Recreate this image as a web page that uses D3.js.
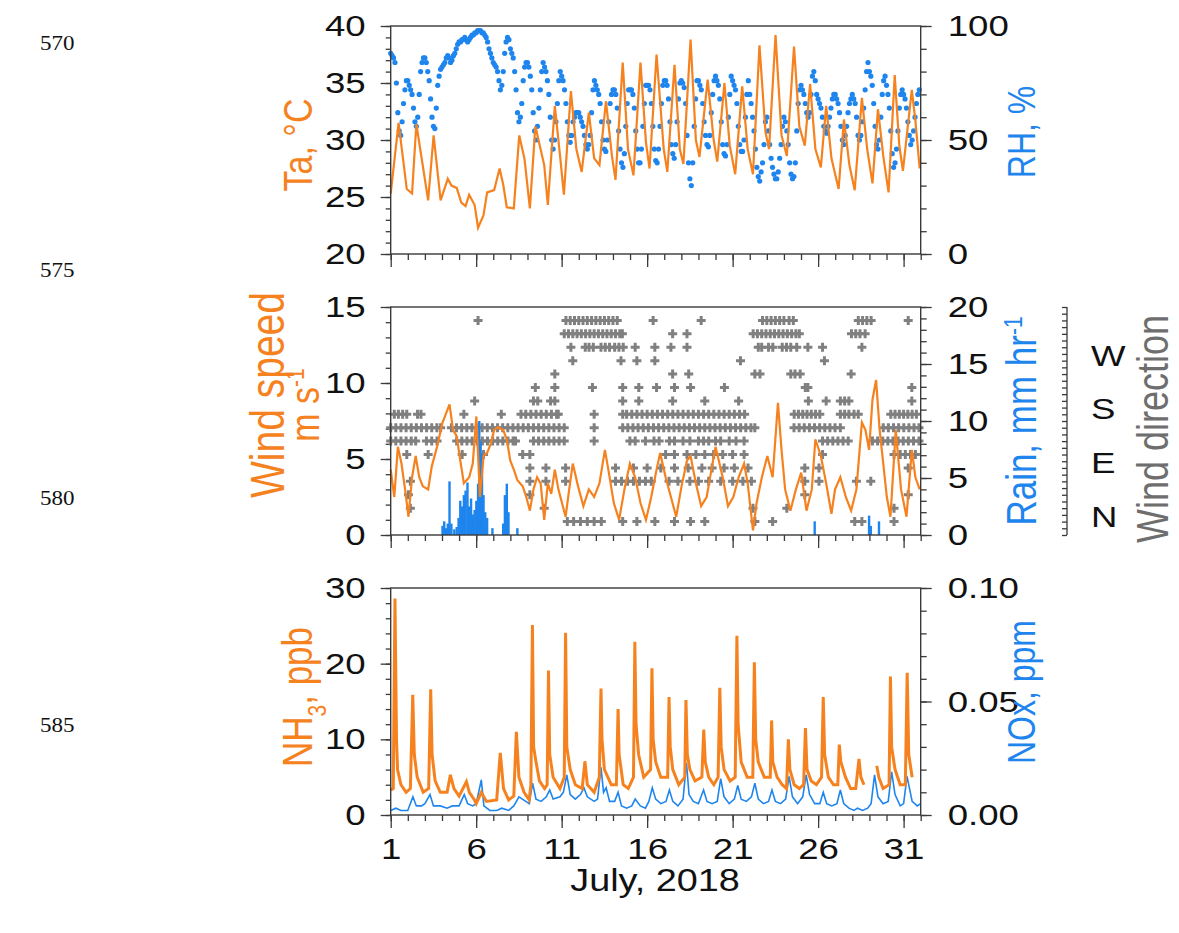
<!DOCTYPE html>
<html>
<head>
<meta charset="utf-8">
<script src="https://cdn.jsdelivr.net/npm/d3@7"></script>
<style>
  body { margin: 0; background: #fff; }
  svg { display: block; }
  text { font-family: "Liberation Sans", Arial, sans-serif; }
</style>
</head>
<body>
<svg id="chart" width="1179" height="933"></svg>
<script>
// ---------- data: July 2018 (day of month, fractional) ----------
const dayTicks = [1, 6, 11, 16, 21, 26, 31];

// Air temperature, °C
const temperature = [
  [1.00,25.3],[1.46,31.5],[1.94,25.7],[2.25,25.3],[2.50,31.4],[3.19,24.7],[3.51,30.4],[3.92,24.7],
  [4.34,26.6],[4.55,26.0],[4.86,25.8],[5.13,24.5],[5.38,24.2],[5.59,25.2],[5.91,24.3],[6.11,22.3],
  [6.43,23.4],[6.64,25.4],[7.05,25.6],[7.37,27.5],[7.58,26.1],[7.79,24.1],[8.20,24.0],[8.52,30.4],
  [8.83,28.3],[9.14,24.0],[9.46,31.2],[9.98,27.8],[10.19,24.3],[10.60,33.0],[10.92,28.4],[11.13,25.2],
  [11.54,34.3],[11.86,29.2],[12.17,27.2],[12.59,32.4],[12.90,28.4],[13.21,27.8],[13.59,33.4],[13.94,28.6],
  [14.15,26.5],[14.57,36.8],[14.88,29.2],[15.20,26.9],[15.61,36.8],[15.93,29.8],[16.14,27.5],[16.55,37.5],
  [16.97,29.2],[17.18,27.2],[17.60,36.6],[17.91,29.2],[18.12,27.9],[18.54,38.8],[18.85,30.0],[19.06,28.5],
  [19.54,35.3],[19.89,30.0],[20.10,28.1],[20.52,35.0],[20.83,29.5],[21.15,27.0],[21.56,34.7],[21.88,29.2],
  [22.19,27.0],[22.57,38.3],[22.92,30.7],[23.13,29.2],[23.51,39.2],[23.86,30.4],[24.17,28.6],[24.59,38.2],
  [24.90,31.2],[25.22,29.5],[25.53,34.9],[25.84,29.2],[26.16,27.6],[26.47,33.0],[26.78,28.4],[27.20,25.7],
  [27.51,31.8],[27.83,27.8],[28.14,25.6],[28.56,33.7],[28.87,29.2],[29.18,26.2],[29.50,32.7],[29.81,28.6],
  [30.12,25.4],[30.48,35.7],[30.75,29.5],[30.96,27.3],[31.48,34.4],[31.69,31.7],[31.94,27.5]
];

// Relative humidity, %, two-hourly from 1 July 00:00 (one row per day)
const humidityStart = 1;
const humidityStep = 1 / 12;
const humidity = [
  88,87,86,84,75,62,54,52,58,66,72,76,
  76,74,72,70,64,58,56,60,70,80,84,86,
  86,84,80,76,68,60,56,55,64,74,78,81,
  82,83,84,86,87,86,84,85,87,88,90,92,
  93,93,94,94,95,94,93,94,95,96,96,97,
  97,98,98,98,97,97,96,95,93,90,88,86,
  84,83,82,80,76,72,74,80,88,93,95,94,
  90,88,86,80,72,62,58,60,66,76,82,84,
  84,82,78,72,62,54,50,56,64,72,80,84,
  82,80,76,70,60,50,46,50,58,66,76,80,
  78,76,72,66,58,52,49,52,58,60,62,62,
  62,60,58,56,52,48,46,48,52,62,72,76,
  74,72,70,66,58,50,46,45,50,58,66,70,
  72,72,70,64,54,46,40,38,44,56,66,72,
  72,72,70,64,54,46,40,40,46,56,66,74,
  74,74,72,66,56,46,41,40,46,56,66,74,
  76,76,74,68,58,48,44,42,48,58,68,75,
  76,75,73,66,52,40,33,30,40,56,68,76,
  76,74,72,66,58,52,48,47,52,62,70,76,
  78,76,74,68,58,48,44,43,48,60,70,78,
  76,74,72,66,56,48,45,45,50,60,70,76,
  70,66,60,54,46,38,34,32,36,40,48,58,
  60,54,48,42,38,35,33,33,36,42,48,56,
  60,58,54,48,40,35,33,34,40,54,66,72,
  74,72,70,66,62,60,62,70,78,80,76,70,
  68,66,64,60,56,54,53,56,60,64,68,70,
  70,68,66,62,56,50,48,52,56,62,66,68,
  70,68,66,60,52,50,52,58,64,72,80,84,
  80,78,74,66,56,48,46,50,60,70,76,78,
  74,70,64,54,44,38,40,46,54,64,70,72,
  70,68,64,58,52,48,50,54,60,66,70,72
];

// Wind speed, m/s
const windSpeed = [
  [1.00,4.3],[1.21,2.5],[1.42,5.8],[1.63,4.7],[1.84,3.0],[2.04,1.2],[2.25,3.8],[2.46,5.2],[2.67,3.8],[2.88,3.2],
  [3.19,3.0],[3.40,4.5],[3.71,5.8],[4.03,7.4],[4.24,8.0],[4.44,8.6],[4.65,6.9],[4.86,6.5],[5.07,4.9],[5.28,3.4],
  [5.59,3.8],[5.80,4.7],[6.01,7.8],[6.22,2.5],[6.43,5.2],[6.64,5.4],[6.85,6.0],[7.05,6.9],[7.26,7.1],[7.58,6.9],
  [7.79,6.3],[7.99,4.9],[8.20,4.3],[8.41,3.6],[8.72,3.2],[8.93,2.5],[9.14,1.6],[9.35,3.0],[9.56,3.8],[9.77,3.4],
  [9.98,1.0],[10.19,3.4],[10.39,2.7],[10.60,4.3],[10.81,3.0],[11.02,2.1],[11.23,1.2],[11.44,3.0],[11.65,4.7],[11.96,3.2],
  [12.27,1.9],[12.59,3.0],[12.90,2.5],[13.21,3.4],[13.53,5.6],[13.73,4.3],[14.05,2.1],[14.36,1.0],[14.67,3.0],[14.99,4.7],
  [15.30,3.8],[15.61,2.1],[15.93,1.0],[16.24,2.5],[16.55,4.3],[16.76,5.4],[17.08,3.8],[17.39,2.5],[17.70,1.2],[18.01,3.2],
  [18.33,4.9],[18.54,5.2],[18.85,3.4],[19.16,1.9],[19.48,2.5],[19.79,4.5],[20.00,5.8],[20.42,3.8],[20.73,1.9],[21.04,2.5],
  [21.35,3.8],[21.67,4.7],[21.88,3.4],[22.19,0.3],[22.40,2.1],[22.71,3.8],[23.03,5.2],[23.34,3.8],[23.65,8.7],[23.86,5.6],
  [24.07,3.0],[24.38,1.6],[24.70,3.0],[25.01,4.1],[25.32,1.6],[25.63,3.0],[25.84,6.3],[26.16,5.2],[26.47,3.4],[26.78,1.4],
  [26.99,3.0],[27.30,3.8],[27.62,2.5],[27.93,1.6],[28.24,3.0],[28.56,7.4],[28.77,6.9],[28.98,5.6],[29.18,8.9],[29.39,10.2],
  [29.60,6.9],[29.81,4.7],[30.02,2.5],[30.23,1.2],[30.54,6.9],[30.85,3.0],[31.17,1.2],[31.48,5.6],[31.69,3.8],[31.94,3.0]
];

// Hourly rainfall, mm/hr
const rainfall = [
  [4.03,0.8],[4.13,1.2],[4.24,0.6],[4.34,1.0],[4.44,4.7],[4.55,1.0],[4.72,0.5],[4.86,0.7],[4.97,1.5],[5.07,3.0],
  [5.18,2.5],[5.28,3.5],[5.38,3.9],[5.49,4.6],[5.59,2.5],[5.70,3.2],[5.80,1.8],[5.91,2.2],[6.01,3.0],[6.11,4.5],
  [6.18,10.0],[6.26,8.2],[6.34,7.0],[6.43,3.5],[6.53,2.0],[6.64,1.5],[6.95,0.6],[7.58,1.0],[7.68,3.5],[7.79,4.5],
  [7.89,2.0],[8.41,0.6],[25.80,1.2],[28.98,1.7],[29.08,0.8],[29.56,1.2]
];

// Wind direction sectors (16-point compass), with the days each sector was observed
const windSectors = ["N","NNE","NE","ENE","E","ESE","SE","SSE","S","SSW","SW","WSW","W","WNW","NW","NNW"];
const windDirDays = [
  /* N   */ [11.33,11.7,12.1,12.5,12.9,13.32,14.57,15.4,16.45,17.6,18.54,19.37,22.3,23.34,28.14,28.56,30.44],
  /* NNE */ [2.15,9.98,22.19,24.17,30.44],
  /* NE  */ [2.04,9.14,25.22,31.27],
  /* ENE */ [2.15,9.14,10.08,11.23,14.15,14.5,14.85,15.2,15.55,15.9,16.24,17.28,17.8,18.5,19.0,19.6,20.3,21.0,21.6,22.1,25.22,26.05,28.24,29.08],
  /* E   */ [9.14,10.08,11.23,14.15,15.2,16.0,16.8,17.6,18.4,19.2,19.8,20.5,21.1,21.9,25.22,26.05,31.27],
  /* ESE */ [1.94,3.19,5.18,6.43,8.72,9.14,17.08,17.6,18.33,18.85,19.37,19.89,20.42,21.0,21.67,26.26,30.44,30.8,31.1,31.4,31.69],
  /* SE  */ [1.0,1.3,1.6,1.9,2.2,2.46,3.09,3.4,3.71,4.86,5.16,5.46,5.76,6.06,6.36,6.66,6.96,7.26,7.56,7.86,8.16,8.3,
             9.35,9.65,9.95,10.25,10.55,10.85,11.15,12.9,14.99,15.3,15.9,16.4,16.7,17.3,17.6,18.1,18.5,19.0,19.3,19.6,
             20.0,20.3,20.8,21.2,21.67,26.26,26.56,26.86,27.16,27.46,27.76,29.18,29.48,29.78,30.08,30.38,30.68,30.98,31.28,31.58,31.9],
  /* SSE */ [1.0,1.3,1.6,1.9,2.2,2.5,2.8,3.1,3.4,3.7,3.92,4.55,4.85,5.15,5.45,5.75,6.05,6.35,6.65,6.95,7.25,7.55,7.85,
             8.15,8.45,8.75,9.05,9.35,9.65,9.95,10.25,10.55,10.85,11.15,12.9,14.57,14.87,15.17,15.47,15.77,16.07,16.37,
             16.67,16.97,17.27,17.57,17.87,18.17,18.47,18.77,19.07,19.37,19.67,19.97,20.27,20.57,20.87,21.17,21.47,21.77,
             22.07,22.3,24.59,24.89,25.19,25.49,25.79,26.09,26.39,26.69,26.99,27.3,29.81,30.11,30.41,30.71,31.01,31.31,31.61,31.9],
  /* S   */ [1.21,1.45,1.7,1.94,2.57,2.77,5.28,7.47,8.62,8.9,9.2,9.5,9.8,10.1,10.4,10.7,10.8,12.9,14.57,14.8,15.1,15.4,
             15.7,16.0,16.3,16.6,16.9,17.2,17.5,17.8,18.1,18.4,18.7,19.0,19.3,19.6,19.9,20.2,20.5,20.8,21.1,21.4,21.7,
             24.6,24.85,25.1,25.35,25.6,25.85,26.1,27.3,27.55,27.8,28.1,28.35,30.25,30.5,30.75,31.0,31.25,31.5,31.75],
  /* SSW */ [5.91,9.35,9.6,10.35,10.6,14.57,15.51,17.49,19.37,21.35,25.43,26.47,27.3,27.55,27.8,31.48],
  /* SW  */ [9.46,10.6,12.8,14.57,15.51,16.55,17.6,18.54,20.52,25.25,25.4,31.48],
  /* WSW */ [10.6,17.49,18.43,22.3,22.6,24.4,24.65,24.95,27.93],
  /* W   */ [11.65,14.47,15.4,16.45,21.46,26.37],
  /* WNW */ [11.54,12.38,12.6,12.85,13.3,13.55,13.8,14.1,14.35,14.6,15.3,16.45,17.39,18.33,22.5,22.7,23.1,23.35,23.9,
             24.15,24.4,24.75,25.4,26.26,28.56],
  /* NW  */ [11.15,11.4,11.65,11.9,12.15,12.4,12.65,12.9,13.15,13.4,13.65,13.9,14.15,14.4,14.55,17.49,18.33,22.2,22.45,
             22.7,22.95,23.2,23.45,23.7,23.95,24.2,24.45,24.7,24.9,27.95,28.2,28.45,28.75],
  /* NNW */ [6.11,11.25,11.5,11.75,12.0,12.25,12.5,12.75,13.0,13.25,13.5,13.75,14.0,14.25,16.35,19.16,22.75,23.0,23.25,
             23.5,23.75,24.0,24.3,24.55,28.35,28.6,28.85,29.1,31.27]
];

// Ammonia, ppb (null marks missing data)
const ammonia = [
  [1.00,3.3],[1.15,3.5],[1.25,28.6],[1.30,18.0],[1.34,10.0],[1.40,6.0],[1.60,4.0],[1.90,3.0],[2.15,3.5],[2.29,15.9],
  [2.38,8.0],[2.55,5.0],[2.90,3.0],[3.22,3.5],[3.34,16.6],[3.42,8.0],[3.60,4.5],[3.90,3.0],[4.30,3.0],[4.49,5.3],
  [4.70,3.5],[5.00,2.5],[5.43,4.4],[5.60,3.0],[5.90,2.0],[6.00,1.5],[6.30,3.0],[6.60,1.8],[7.20,2.0],[7.41,8.2],
  [7.60,3.5],[7.90,2.0],[8.20,2.5],[8.35,11.0],[8.50,5.0],[8.80,3.0],[9.10,2.0],[9.20,4.0],[9.29,25.1],[9.36,9.0],
  [9.50,7.0],[9.70,4.5],[10.00,3.5],[10.15,4.0],[10.23,19.1],[10.30,8.0],[10.50,5.0],[10.90,3.5],[11.15,5.0],[11.23,24.1],
  [11.30,9.0],[11.50,6.0],[11.80,4.0],[12.20,3.5],[12.36,7.1],[12.50,4.0],[12.90,3.0],[13.20,5.0],[13.30,16.7],[13.36,10.0],
  [13.50,6.0],[13.90,4.0],[14.20,4.0],[14.30,14.0],[14.36,8.0],[14.60,4.0],[14.90,3.5],[15.20,5.0],[15.28,22.9],[15.35,12.0],
  [15.50,8.0],[15.80,5.0],[16.20,6.0],[16.28,19.4],[16.35,10.0],[16.50,7.0],[16.80,5.0],[17.20,5.0],[17.28,15.6],[17.35,9.0],
  [17.50,6.0],[17.85,4.0],[18.20,5.0],[18.27,15.2],[18.35,8.0],[18.50,6.0],[18.80,4.5],[19.20,5.0],[19.31,11.3],[19.40,7.0],
  [19.60,5.0],[19.90,4.0],[20.15,5.0],[20.25,16.8],[20.33,9.0],[20.50,6.0],[20.85,4.5],[21.15,5.0],[21.25,23.7],[21.32,12.0],
  [21.50,7.0],[21.85,5.0],[22.18,5.0],[22.27,20.2],[22.35,10.0],[22.50,7.0],[22.85,5.0],[23.20,5.0],[23.28,12.5],[23.35,7.0],
  [23.60,5.0],[23.90,4.0],[24.15,3.5],[24.26,10.0],[24.35,6.0],[24.60,4.0],[24.90,3.5],[25.15,4.0],[25.26,11.5],[25.35,6.0],
  [25.60,4.5],[25.90,4.0],[26.20,5.0],[26.30,15.6],[26.38,8.0],[26.60,5.0],[26.90,4.0],[27.15,4.0],[27.24,9.3],[27.33,7.0],
  [27.60,5.0],[27.90,3.5],[28.20,3.5],[28.39,7.4],[28.50,5.0],[28.68,4.0],[28.70,null],[29.43,null],[29.43,6.5],[29.55,5.0],
  [29.80,3.5],[30.15,4.0],[30.23,18.3],[30.30,9.0],[30.50,6.0],[30.80,4.0],[31.10,4.0],[31.21,18.8],[31.30,8.0],[31.50,5.0]
];

// Nitrogen oxides, ppm
const nitrogenOxides = [
  [1.0,0.002],[1.3,0.003],[1.6,0.002],[2.0,0.002],[2.3,0.008],[2.5,0.004],[2.8,0.004],[3.0,0.005],[3.3,0.009],[3.5,0.004],
  [3.9,0.004],[4.3,0.003],[4.6,0.004],[5.0,0.004],[5.3,0.009],[5.5,0.005],[5.8,0.004],[6.0,0.005],[6.3,0.0155],[6.45,0.004],
  [6.8,0.002],[7.2,0.002],[7.5,0.003],[7.9,0.002],[8.2,0.004],[8.5,0.008],[8.9,0.006],[9.1,0.005],[9.3,0.014],[9.5,0.007],
  [9.8,0.006],[10.1,0.008],[10.3,0.011],[10.5,0.007],[10.9,0.008],[11.1,0.010],[11.3,0.0177],[11.5,0.009],[11.8,0.007],[12.1,0.009],
  [12.3,0.012],[12.5,0.008],[12.9,0.006],[13.1,0.007],[13.3,0.021],[13.45,0.010],[13.6,0.012],[13.8,0.006],[14.1,0.006],[14.3,0.010],
  [14.5,0.004],[14.8,0.003],[15.1,0.004],[15.3,0.007],[15.6,0.004],[15.9,0.003],[16.1,0.006],[16.3,0.012],[16.5,0.007],[16.8,0.005],
  [17.1,0.006],[17.3,0.011],[17.5,0.006],[17.8,0.004],[18.1,0.007],[18.3,0.023],[18.45,0.009],[18.7,0.006],[19.0,0.005],[19.3,0.011],
  [19.5,0.006],[19.8,0.005],[20.1,0.006],[20.3,0.016],[20.5,0.008],[20.8,0.005],[21.1,0.007],[21.3,0.013],[21.5,0.007],[21.8,0.006],
  [22.1,0.008],[22.3,0.014],[22.5,0.007],[22.8,0.005],[23.1,0.006],[23.3,0.011],[23.5,0.006],[23.8,0.005],[24.1,0.007],[24.3,0.017],
  [24.5,0.008],[24.8,0.005],[25.1,0.008],[25.3,0.0177],[25.5,0.009],[25.8,0.005],[26.1,0.005],[26.3,0.010],[26.5,0.005],[26.8,0.004],
  [27.1,0.005],[27.3,0.011],[27.5,0.005],[27.8,0.003],[28.1,0.002],[28.3,0.003],[28.6,0.002],[28.9,0.003],[29.1,0.005],[29.3,0.0177],
  [29.5,0.008],[29.8,0.005],[30.1,0.006],[30.3,0.019],[30.5,0.009],[30.8,0.004],[31.0,0.005],[31.2,0.017],[31.5,0.006],[31.8,0.004],[32.0,0.005]
];

// ---------- layout & style ----------
const ORANGE = "#F5821F", BLUE = "#1E85EE", GREY = "#808080", AXIS = "#3a3a3a";
const TEXT_STRETCH = 1.22;
const FS_TICK = 30;

const svg = d3.select("#chart");
const left = 390.7, right = 920.7;
const panels = { top: [26, 254], mid: [307, 535], bot: [588, 815] };

const x = d3.scaleLinear().domain([1, 32]).range([left, right]);
const yTa = d3.scaleLinear().domain([20, 40]).range(panels.top.slice().reverse());
const yRH = d3.scaleLinear().domain([0, 100]).range(panels.top.slice().reverse());
const yWS = d3.scaleLinear().domain([0, 15]).range(panels.mid.slice().reverse());
const yRain = d3.scaleLinear().domain([0, 20]).range(panels.mid.slice().reverse());
const ySector = d3.scaleLinear().domain([-1, 16]).range(panels.mid.slice().reverse());
const yNH3 = d3.scaleLinear().domain([0, 30]).range(panels.bot.slice().reverse());
const yNOx = d3.scaleLinear().domain([0, 0.1]).range(panels.bot.slice().reverse());

function stretchText(sel) {
  sel.each(function () {
    const t = d3.select(this);
    const tx = +t.attr("x") || 0, ty = +t.attr("y") || 0;
    t.attr("x", 0).attr("y", 0)
     .attr("transform", `translate(${tx},${ty}) scale(${TEXT_STRETCH},1)`);
  });
}

function styleAxis(g) {
  g.select(".domain").remove();
  g.selectAll(".tick line").attr("stroke", AXIS).attr("stroke-width", 1.3);
  g.selectAll(".tick text").attr("fill", "#111").style("font-size", FS_TICK + "px")
   .style("font-family", '"Liberation Sans", Arial, sans-serif');
  stretchText(g.selectAll(".tick text"));
}

function addAxis(axis, tx, ty) {
  const g = svg.append("g").attr("transform", `translate(${tx},${ty})`).call(axis);
  styleAxis(g);
  return g;
}

function frame(p) {
  svg.append("rect").attr("x", left).attr("y", p[0]).attr("width", right - left)
    .attr("height", p[1] - p[0]).attr("fill", "none").attr("stroke", AXIS).attr("stroke-width", 1.4);
}

function titleText(cx, cy, color, size) {
  return svg.append("text")
    .attr("transform", `translate(${cx},${cy}) scale(${TEXT_STRETCH},1) rotate(-90)`)
    .attr("text-anchor", "middle").attr("dy", "0.35em")
    .attr("fill", color).style("font-size", size + "px");
}

// ---------- frames and axes ----------
const minorDays = d3.range(1, 33);
[panels.top, panels.mid, panels.bot].forEach((p, i) => {
  addAxis(d3.axisBottom(x).tickValues(minorDays).tickSize(6).tickFormat(""), 0, p[1]);
  const major = d3.axisBottom(x).tickValues(dayTicks).tickSize(13).tickPadding(10);
  if (i < 2) major.tickFormat("");
  addAxis(major, 0, p[1]);
});

// top panel: temperature (left), RH (right)
addAxis(d3.axisLeft(yTa).tickValues(d3.range(20, 41)).tickSize(5).tickFormat(""), left, 0);
addAxis(d3.axisLeft(yTa).tickValues([20, 25, 30, 35, 40]).tickSize(10).tickPadding(15), left, 0);
addAxis(d3.axisRight(yRH).tickValues(d3.range(0, 101, 10)).tickSize(6).tickFormat(""), right, 0);
addAxis(d3.axisRight(yRH).tickValues([0, 50, 100]).tickSize(11).tickPadding(16), right, 0);

// middle panel: wind speed (left), rain (right), wind direction (outer right)
addAxis(d3.axisLeft(yWS).tickValues(d3.range(0, 16)).tickSize(5).tickFormat(""), left, 0);
addAxis(d3.axisLeft(yWS).tickValues([0, 5, 10, 15]).tickSize(10).tickPadding(15), left, 0);
addAxis(d3.axisRight(yRain).tickValues(d3.range(0, 21)).tickSize(6).tickFormat(""), right, 0);
addAxis(d3.axisRight(yRain).tickValues([0, 5, 10, 15, 20]).tickSize(11).tickPadding(16), right, 0);

const wdX = 1067;
svg.append("line").attr("x1", wdX).attr("x2", wdX).attr("y1", panels.mid[0]).attr("y2", panels.mid[1])
  .attr("stroke", AXIS).attr("stroke-width", 1.3);
addAxis(d3.axisLeft(ySector).tickValues(d3.range(-1, 16.5, 0.5)).tickSize(5).tickFormat(""), wdX, 0);
addAxis(d3.axisRight(ySector).tickValues([0, 4, 8, 12]).tickSize(0).tickPadding(24)
  .tickFormat(d => windSectors[d]), wdX, -5);

// bottom panel: NH3 (left), NOx (right)
addAxis(d3.axisLeft(yNH3).tickValues(d3.range(0, 31, 2)).tickSize(5).tickFormat(""), left, 0);
addAxis(d3.axisLeft(yNH3).tickValues([0, 10, 20, 30]).tickSize(10).tickPadding(15), left, 0);
addAxis(d3.axisRight(yNOx).tickValues(d3.range(0, 0.1001, 0.01)).tickSize(6).tickFormat(""), right, 0);
addAxis(d3.axisRight(yNOx).tickValues([0, 0.05, 0.1]).tickSize(11).tickPadding(16).tickFormat(d3.format(".2f")), right, 0);

// ---------- marks ----------
// RH dots
svg.append("g").selectAll("circle").data(humidity).join("circle")
  .attr("cx", (d, i) => x(humidityStart + i * humidityStep))
  .attr("cy", d => yRH(d)).attr("r", 2.6).attr("fill", BLUE);

// temperature line
svg.append("path").datum(temperature)
  .attr("d", d3.line().x(d => x(d[0])).y(d => yTa(d[1])))
  .attr("fill", "none").attr("stroke", ORANGE).attr("stroke-width", 2.2);

// wind direction crosses
const crossPath = d3.symbol(d3.symbolCross, 45)();
const wdPoints = windDirDays.flatMap((list, s) => list.map(day => [day, s]));
svg.append("g").selectAll("path").data(wdPoints).join("path")
  .attr("d", crossPath)
  .attr("transform", d => `translate(${x(d[0])},${ySector(d[1])})`)
  .attr("fill", GREY);

// rain bars
svg.append("g").selectAll("rect").data(rainfall).join("rect")
  .attr("x", d => x(d[0]) - 1.2).attr("width", 2.4)
  .attr("y", d => yRain(d[1])).attr("height", d => yRain(0) - yRain(d[1]))
  .attr("fill", BLUE);

// wind speed line
svg.append("path").datum(windSpeed)
  .attr("d", d3.line().x(d => x(d[0])).y(d => yWS(d[1])))
  .attr("fill", "none").attr("stroke", ORANGE).attr("stroke-width", 2.2);

// NOx line
svg.append("path").datum(nitrogenOxides)
  .attr("d", d3.line().x(d => x(d[0])).y(d => yNOx(d[1])))
  .attr("fill", "none").attr("stroke", BLUE).attr("stroke-width", 1.6);

// NH3 line
svg.append("path").datum(ammonia)
  .attr("d", d3.line().defined(d => d[1] !== null).x(d => x(d[0])).y(d => yNH3(d[1])))
  .attr("fill", "none").attr("stroke", ORANGE).attr("stroke-width", 3);

// frames on top
[panels.top, panels.mid, panels.bot].forEach(frame);

// ---------- titles ----------
titleText(297, 145, ORANGE, 34).text("Ta, °C");
titleText(1021, 132, BLUE, 32).text("RH, %");

titleText(267, 395, ORANGE, 39).text("Wind speed");
const ms = titleText(304, 405, ORANGE, 34);
ms.append("tspan").text("m s");
ms.append("tspan").attr("baseline-shift", "super").style("font-size", "21px").text("-1");

const rain = titleText(1021, 421, BLUE, 35);
rain.append("tspan").text("Rain, mm hr");
rain.append("tspan").attr("baseline-shift", "super").style("font-size", "21px").text("-1");

titleText(1153, 429, "#6e6e6e", 36).text("Wind direction");

const nh3 = titleText(297, 697, ORANGE, 35);
nh3.append("tspan").text("NH");
nh3.append("tspan").attr("baseline-shift", "sub").style("font-size", "21px").text("3");
nh3.append("tspan").text(", ppb");

titleText(1021, 692, BLUE, 32).text("NOx, ppm");

svg.append("text").attr("transform", `translate(655,891) scale(${TEXT_STRETCH},1)`)
  .attr("text-anchor", "middle").style("font-size", "31px").attr("fill", "#111").text("July, 2018");

// ---------- line numbers ----------
const lineNumbers = [570, 575, 580, 585];
const lineY = d3.scaleLinear().domain([570, 585]).range([50, 732]);
svg.append("g").selectAll("text").data(lineNumbers).join("text")
  .attr("transform", d => `translate(40,${lineY(d)}) scale(1.15,1)`)
  .style("font-family", '"Liberation Serif", "Times New Roman", serif')
  .style("font-size", "20px").attr("fill", "#111").text(d => d);
</script>
</body>
</html>
